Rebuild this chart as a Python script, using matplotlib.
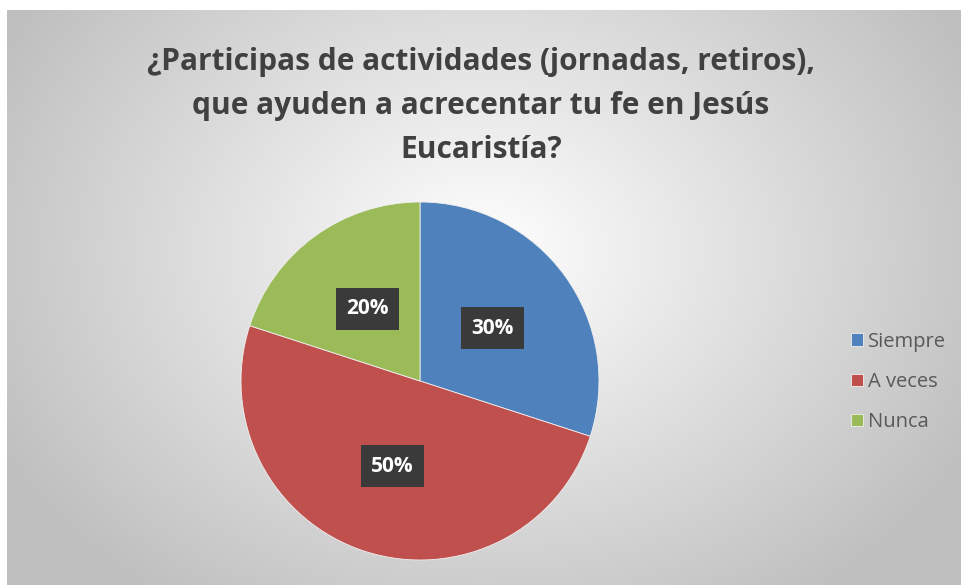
import numpy as np
import matplotlib
matplotlib.use('Agg')
import matplotlib.pyplot as plt

title = '¿Participas de actividades (jornadas, retiros),\nque ayuden a acrecentar tu fe en Jesús\nEucaristía?'
labels = ['Siempre', 'A veces', 'Nunca']
values = [30, 50, 20]
colors = ['#4F81BD', '#C0504D', '#9BBB59']

W, H = 961, 585
fig = plt.figure(figsize=(W / 100, H / 100), dpi=100)
fig.patch.set_facecolor('white')

# gradient background of the chart area
left, top = 7, 10
bg = fig.add_axes([left / W, 0, (W - left) / W, (H - top) / H])
yy, xx = np.mgrid[0:1:300j, 0:1:500j]
d = np.sqrt(((xx - 0.5) * 1.3) ** 2 + ((yy - 0.58) * 1.0) ** 2)
shade = 1.0 - 0.25 * np.clip(d / 0.75, 0, 1)
bg.imshow(np.dstack([shade] * 3), aspect='auto', extent=[0, 1, 0, 1], origin='lower')
bg.axis('off')

fig.text(481 / W, 1 - 106 / H, title, ha='center', va='center', fontsize=21.5,
         fontweight='bold', color='#404040', family='Open Sans', linespacing=1.62)

r = 179
cx, cy = 420, 381
ax = fig.add_axes([(cx - r) / W, 1 - (cy + r) / H, 2 * r / W, 2 * r / H])
wedges, texts, autotexts = ax.pie(values, colors=colors, startangle=90, counterclock=False,
                                  autopct='%d%%', pctdistance=0.5,
                                  wedgeprops=dict(linewidth=0.6, edgecolor='#f0f0f0'))
for t in autotexts:
    t.set_color('white')
    t.set_fontsize(15)
    t.set_fontweight('bold')
    t.set_family('Open Sans')
    t.set_bbox(dict(boxstyle='square,pad=0.5', facecolor='#3a3a3a', edgecolor='none'))
ax.set_xlim(-1, 1)
ax.set_ylim(-1, 1)
ax.set_aspect('equal')
ax.axis('off')

leg = fig.legend(wedges, labels, loc='center left', bbox_to_anchor=(833 / W, 1 - 382 / H),
                 frameon=False, fontsize=14.5, handlelength=0.6, handleheight=0.6,
                 handletextpad=0.25, labelspacing=1.0, labelcolor='#595959')
for t in leg.get_texts():
    t.set_family('Open Sans')

fig.savefig('out.png', dpi=100)
